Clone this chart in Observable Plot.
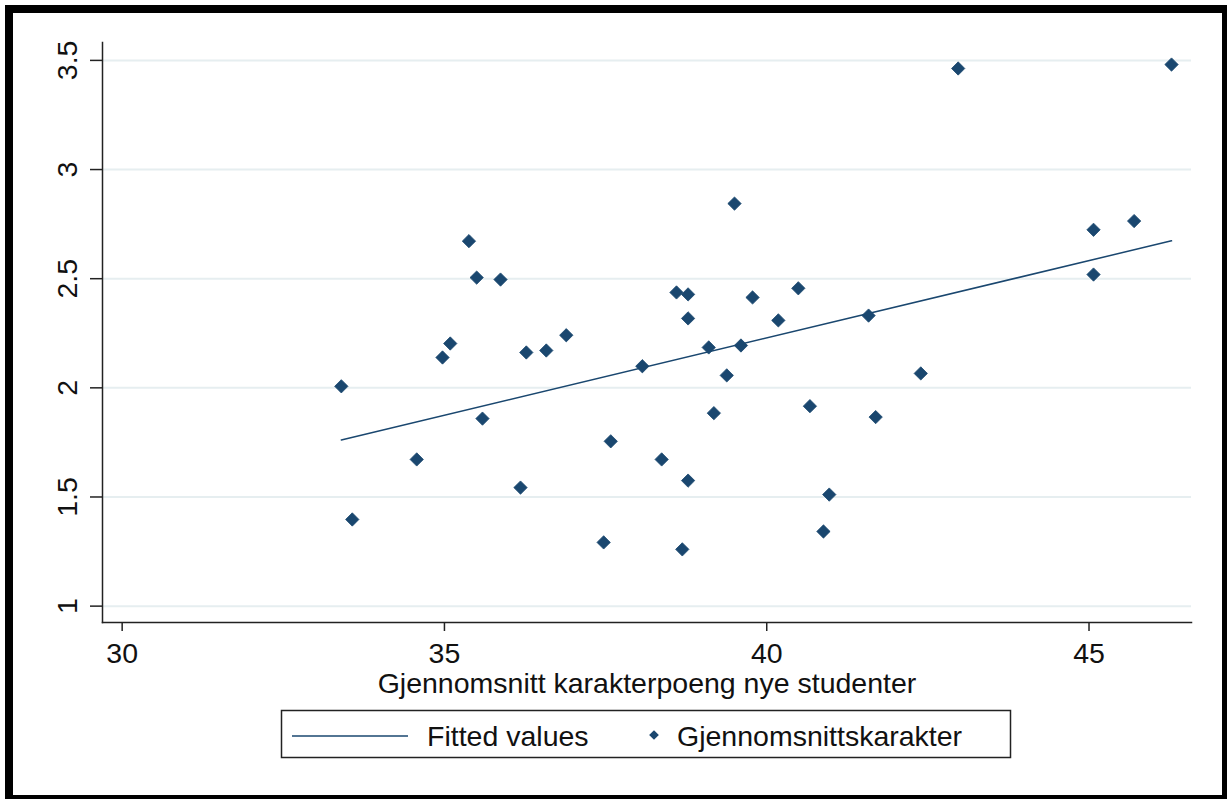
<!DOCTYPE html>
<html>
<head>
<meta charset="utf-8">
<script src="https://cdn.jsdelivr.net/npm/d3@7"></script>
<script src="https://cdn.jsdelivr.net/npm/@observablehq/plot@0.6"></script>
<style>
  html, body { margin: 0; padding: 0; background: #fff; }
  body { width: 1227px; height: 799px; position: relative; overflow: hidden; font-family: "Liberation Sans", Arial, sans-serif; }
  #chart { position: absolute; left: 0; top: 0; }
  #frame { position: absolute; left: 5px; top: 5px; width: 1222px; height: 794px; box-sizing: border-box;
           border-style: solid; border-color: #000; border-width: 8px 5px 4px 8px; pointer-events: none; }
  #legend { position: absolute; left: 0; top: 0; }
</style>
</head>
<body>
<div id="chart"></div>
<svg id="legend" width="1227" height="799"></svg>
<div id="frame"></div>
<script>
// Data (x: Gjennomsnitt karakterpoeng nye studenter, y: Gjennomsnittskarakter)
const xValues = [33.40, 33.57, 34.57, 34.97, 35.09, 35.38, 35.50, 35.59, 35.87, 36.18,
                 36.27, 36.58, 36.89, 37.47, 37.58, 38.07, 38.37, 38.60, 38.78, 38.78,
                 38.78, 38.69, 39.10, 39.18, 39.38, 39.50, 39.60, 39.78, 40.18, 40.49,
                 40.67, 40.88, 40.97, 41.58, 41.69, 42.39, 42.97, 45.07, 45.07, 45.70, 46.28];
const yValues = [2.007, 1.397, 1.672, 2.139, 2.203, 2.672, 2.505, 1.859, 2.496, 1.543,
                 2.162, 2.171, 2.241, 1.292, 1.755, 2.099, 1.672, 2.437, 2.428, 2.318,
                 1.575, 1.260, 2.185, 1.884, 2.057, 2.844, 2.194, 2.414, 2.309, 2.456,
                 1.916, 1.342, 1.511, 2.331, 1.866, 2.066, 3.463, 2.724, 2.519, 2.764, 3.481];
const xTicks = [30, 35, 40, 45];
const yTicks = [1, 1.5, 2, 2.5, 3, 3.5];
const xLabel = "Gjennomsnitt karakterpoeng nye studenter";
const legendLabels = ["Fitted values", "Gjennomsnittskarakter"];

const points = xValues.map((x, i) => ({x, y: yValues[i]}));
const navy = "#1a476f";
const FONT = "28.5px";

const plot = Plot.plot({
  width: 1227,
  height: 705,
  marginLeft: 102,
  marginRight: 36,
  marginTop: 42,
  marginBottom: 83,
  style: {fontFamily: "'Liberation Sans', Arial, sans-serif", fontSize: FONT, color: "#111", background: "transparent"},
  x: {domain: [29.695, 46.59]},
  y: {domain: [0.925, 3.582]},
  marks: [
    Plot.gridY(yTicks, {stroke: "#e6eef0", strokeOpacity: 1, strokeWidth: 2}),
    Plot.frame({anchor: "left", stroke: "#222", strokeWidth: 1.5}),
    Plot.frame({anchor: "bottom", stroke: "#222", strokeWidth: 1.5}),
    Plot.axisY(yTicks, {tickSize: 12, tickFormat: () => "", stroke: "#222", strokeWidth: 1.5, label: null}),
    Plot.text(yTicks, {frameAnchor: "left", y: d => d, text: d => String(d), rotate: -90,
                       dx: -26, lineAnchor: "bottom", textAnchor: "middle", fontSize: FONT, fill: "#111"}),
    Plot.axisX(xTicks, {tickSize: 9, tickPadding: 11, stroke: "#222", strokeWidth: 1.5, label: null,
                        tickFormat: d => String(d), fontSize: FONT, fill: "#111"}),
    Plot.text([xLabel], {frameAnchor: "bottom", text: d => d, dy: 50, lineAnchor: "top", fontSize: FONT, fill: "#111"}),
    Plot.linearRegressionY(points, {x: "x", y: "y", ci: 0, stroke: navy, strokeWidth: 1.5}),
    Plot.dot(points, {x: "x", y: "y", symbol: "diamond2", r: 6, fill: navy, stroke: navy, strokeWidth: 0.8})
  ]
});
document.getElementById("chart").appendChild(plot);

// Legend
const lg = d3.select("#legend");
lg.append("rect").attr("x", 281.5).attr("y", 710.5).attr("width", 729).attr("height", 47)
  .attr("fill", "none").attr("stroke", "#222").attr("stroke-width", 1.5);
lg.append("line").attr("x1", 292).attr("x2", 408).attr("y1", 736).attr("y2", 736)
  .attr("stroke", navy).attr("stroke-width", 1.5);
lg.append("text").attr("x", 427).attr("y", 746).text(legendLabels[0])
  .attr("font-size", FONT).attr("fill", "#111").attr("font-family", "'Liberation Sans', Arial, sans-serif");
lg.append("path").attr("d", d3.symbol(d3.symbolDiamond2, 60)()).attr("transform", "translate(654,735)").attr("fill", navy);
lg.append("text").attr("x", 677).attr("y", 746).text(legendLabels[1])
  .attr("font-size", FONT).attr("fill", "#111").attr("font-family", "'Liberation Sans', Arial, sans-serif");
</script>
</body>
</html>
